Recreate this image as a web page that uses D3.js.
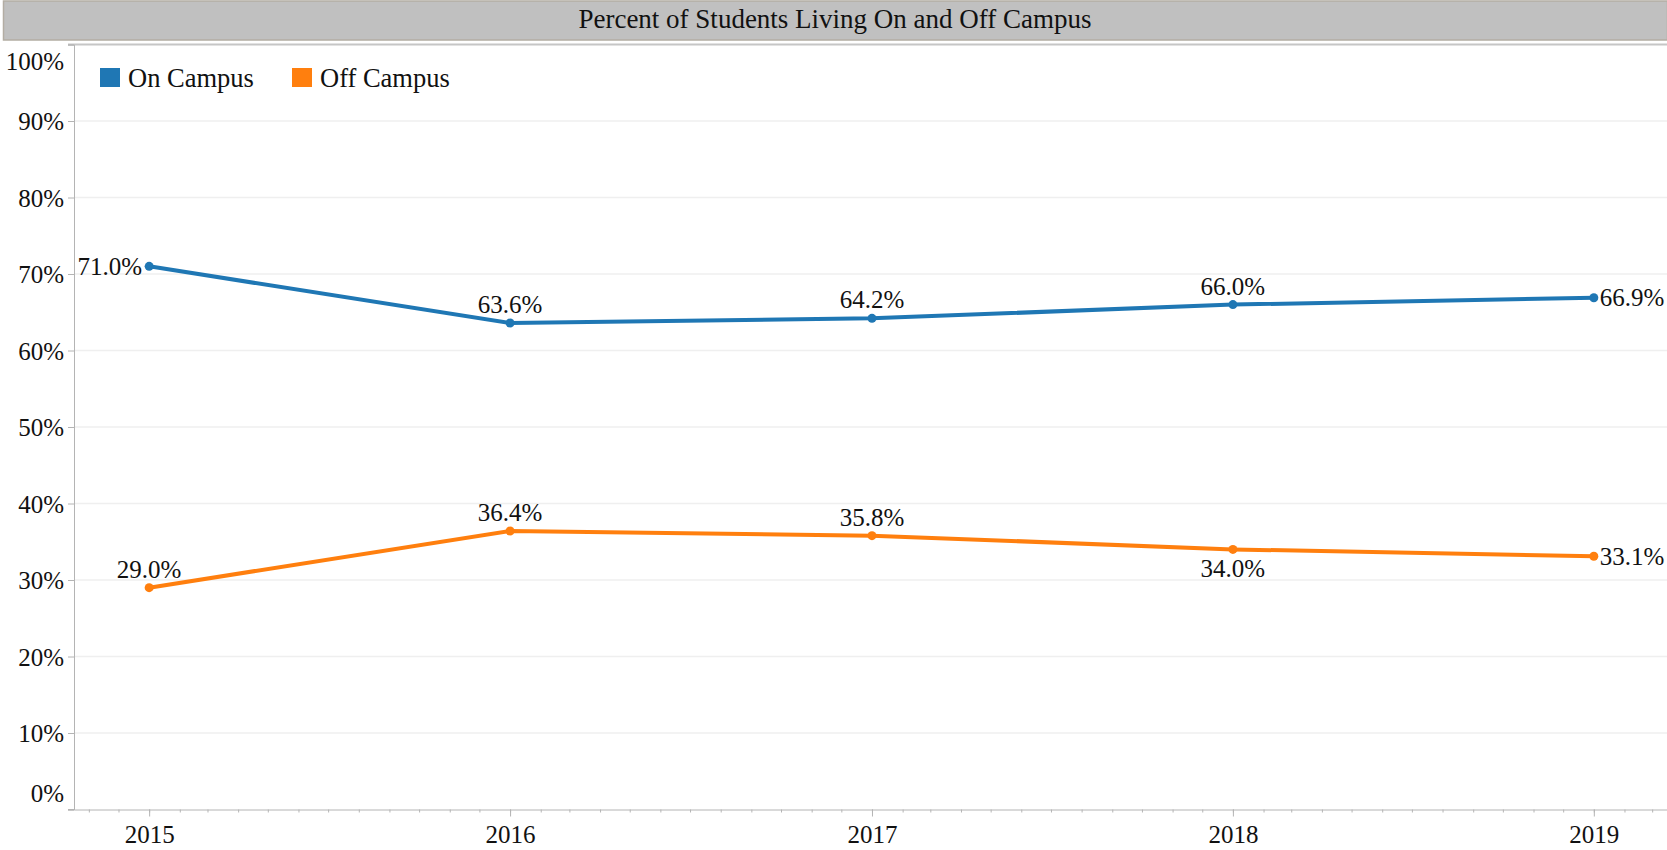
<!DOCTYPE html>
<html>
<head>
<meta charset="utf-8">
<script src="https://cdn.jsdelivr.net/npm/d3@7"></script>
<style>
  html, body { margin: 0; padding: 0; background: #fff; }
  svg { display: block; font-family: "Liberation Serif", "Times New Roman", serif; }
</style>
</head>
<body>
<svg id="chart"></svg>
<script>
// data
const years = [2015, 2016, 2017, 2018, 2019];
const onCampus = [71.0, 63.6, 64.2, 66.0, 66.9];
const offCampus = [29.0, 36.4, 35.8, 34.0, 33.1];
const yTickValues = [0, 10, 20, 30, 40, 50, 60, 70, 80, 90, 100];
const seriesNames = ["On Campus", "Off Campus"];
const titleText = "Percent of Students Living On and Off Campus";

const width = 1667;
const height = 850;
const margin = { top: 44.5, right: 0, bottom: 40.5, left: 74 };

const colors = { "On Campus": "#1f77b4", "Off Campus": "#ff7f0e" };

const svg = d3.select("#chart")
  .attr("width", width)
  .attr("height", height);

// title bar
svg.append("rect")
  .attr("x", 3.5)
  .attr("y", 1)
  .attr("width", width - 3)
  .attr("height", 39)
  .attr("fill", "#c0c0c0")
  .attr("stroke", "#b3ada3")
  .attr("stroke-width", 1.5);

svg.append("text")
  .attr("x", (3 + width) / 2)
  .attr("y", 28)
  .attr("text-anchor", "middle")
  .style("font-size", "27px")
  .style("fill", "#111")
  .text(titleText);

const x = d3.scaleTime()
  .domain([new Date(2014, 9, 17), new Date(2019, 2, 16)])
  .range([margin.left, width - margin.right]);

const y = d3.scaleLinear()
  .domain([0, 100])
  .range([height - margin.bottom, margin.top]);

const g = svg.append("g");

// gridlines
g.selectAll(".grid")
  .data(yTickValues.filter(d => d > 0 && d < 100))
  .enter()
  .append("line")
  .attr("class", "grid")
  .attr("x1", margin.left)
  .attr("x2", width)
  .attr("y1", d => y(d))
  .attr("y2", d => y(d))
  .attr("stroke", "#efefef")
  .attr("stroke-width", 1.5);

// top border of the pane
svg.append("line")
  .attr("x1", margin.left - 6)
  .attr("x2", width)
  .attr("y1", margin.top)
  .attr("y2", margin.top)
  .attr("stroke", "#c6c6c6")
  .attr("stroke-width", 2);

// y axis
const yAxis = svg.append("g")
  .attr("transform", `translate(${margin.left},0)`)
  .call(d3.axisLeft(y).tickValues(yTickValues).tickSize(6).tickFormat(d => d + "%"));

yAxis.select(".domain").attr("stroke", "#b4b4b4");
yAxis.selectAll(".tick line").attr("stroke", "#b4b4b4");
yAxis.selectAll(".tick text")
  .attr("x", -10)
  .attr("dy", d => d === 0 ? "-0.32em" : d === 100 ? "0.99em" : "0.34em")
  .style("font-size", "25px")
  .style("font-family", "Liberation Serif, serif")
  .style("fill", "#111");

// x axis: monthly minor ticks, yearly labels
const xAxisY = height - margin.bottom;
const xMinor = svg.append("g")
  .attr("transform", `translate(0,${xAxisY})`)
  .call(d3.axisBottom(x).ticks(d3.timeMonth.every(1)).tickSize(3).tickFormat(""));
xMinor.select(".domain").remove();
xMinor.selectAll(".tick line").attr("stroke", "#b4b4b4");

const xAxis = svg.append("g")
  .attr("transform", `translate(0,${xAxisY})`)
  .call(d3.axisBottom(x)
    .tickValues(years.map(yr => new Date(yr, 0, 1)))
    .tickSize(7)
    .tickSizeOuter(0)
    .tickFormat(d3.timeFormat("%Y")));

xAxis.select(".domain").attr("stroke", "#b4b4b4");
xAxis.selectAll(".tick line").attr("stroke", "#b4b4b4");
xAxis.selectAll(".tick text")
  .attr("y", 0)
  .attr("dy", "1.35em")
  .style("font-size", "25px")
  .style("font-family", "Liberation Serif, serif")
  .style("fill", "#111");

svg.append("line")
  .attr("x1", margin.left - 6)
  .attr("x2", margin.left)
  .attr("y1", xAxisY)
  .attr("y2", xAxisY)
  .attr("stroke", "#b4b4b4");

// lines
const series = [
  { name: "On Campus", values: onCampus },
  { name: "Off Campus", values: offCampus }
];

const line = d3.line()
  .x((d, i) => x(new Date(years[i], 0, 1)))
  .y(d => y(d));

series.forEach(s => {
  g.append("path")
    .datum(s.values)
    .attr("d", line)
    .attr("fill", "none")
    .attr("stroke", colors[s.name])
    .attr("stroke-width", 4);

  g.selectAll(".pt-" + s.name.replace(" ", ""))
    .data(s.values)
    .enter()
    .append("circle")
    .attr("cx", (d, i) => x(new Date(years[i], 0, 1)))
    .attr("cy", d => y(d))
    .attr("r", 4.5)
    .attr("fill", colors[s.name]);
});

// mark labels
function placement(name, i) {
  if (i === years.length - 1) return "right";
  if (name === "On Campus" && i === 0) return "left";
  if (name === "Off Campus" && years[i] === 2018) return "below";
  return "above";
}

series.forEach(s => {
  s.values.forEach((v, i) => {
    const px = x(new Date(years[i], 0, 1));
    const py = y(v);
    const where = placement(s.name, i);
    let tx = px, ty = py - 10, anchor = "middle";
    if (where === "left") { tx = px - 7; ty = py + 8.5; anchor = "end"; }
    if (where === "right") { tx = px + 6; ty = py + 8.5; anchor = "start"; }
    if (where === "below") { ty = py + 28; }
    g.append("text")
      .attr("x", tx)
      .attr("y", ty)
      .attr("text-anchor", anchor)
      .style("font-size", "25px")
      .style("fill", "#111")
      .text(v.toFixed(1) + "%");
  });
});

// legend
const legend = svg.append("g").attr("class", "legend");
const legendX = [100, 292];
seriesNames.forEach((name, i) => {
  legend.append("rect")
    .attr("x", legendX[i])
    .attr("y", 68)
    .attr("width", 20)
    .attr("height", 19)
    .attr("fill", colors[name]);
  legend.append("text")
    .attr("x", legendX[i] + 28)
    .attr("y", 87)
    .style("font-size", "26.5px")
    .style("fill", "#111")
    .text(name);
});
</script>
</body>
</html>
